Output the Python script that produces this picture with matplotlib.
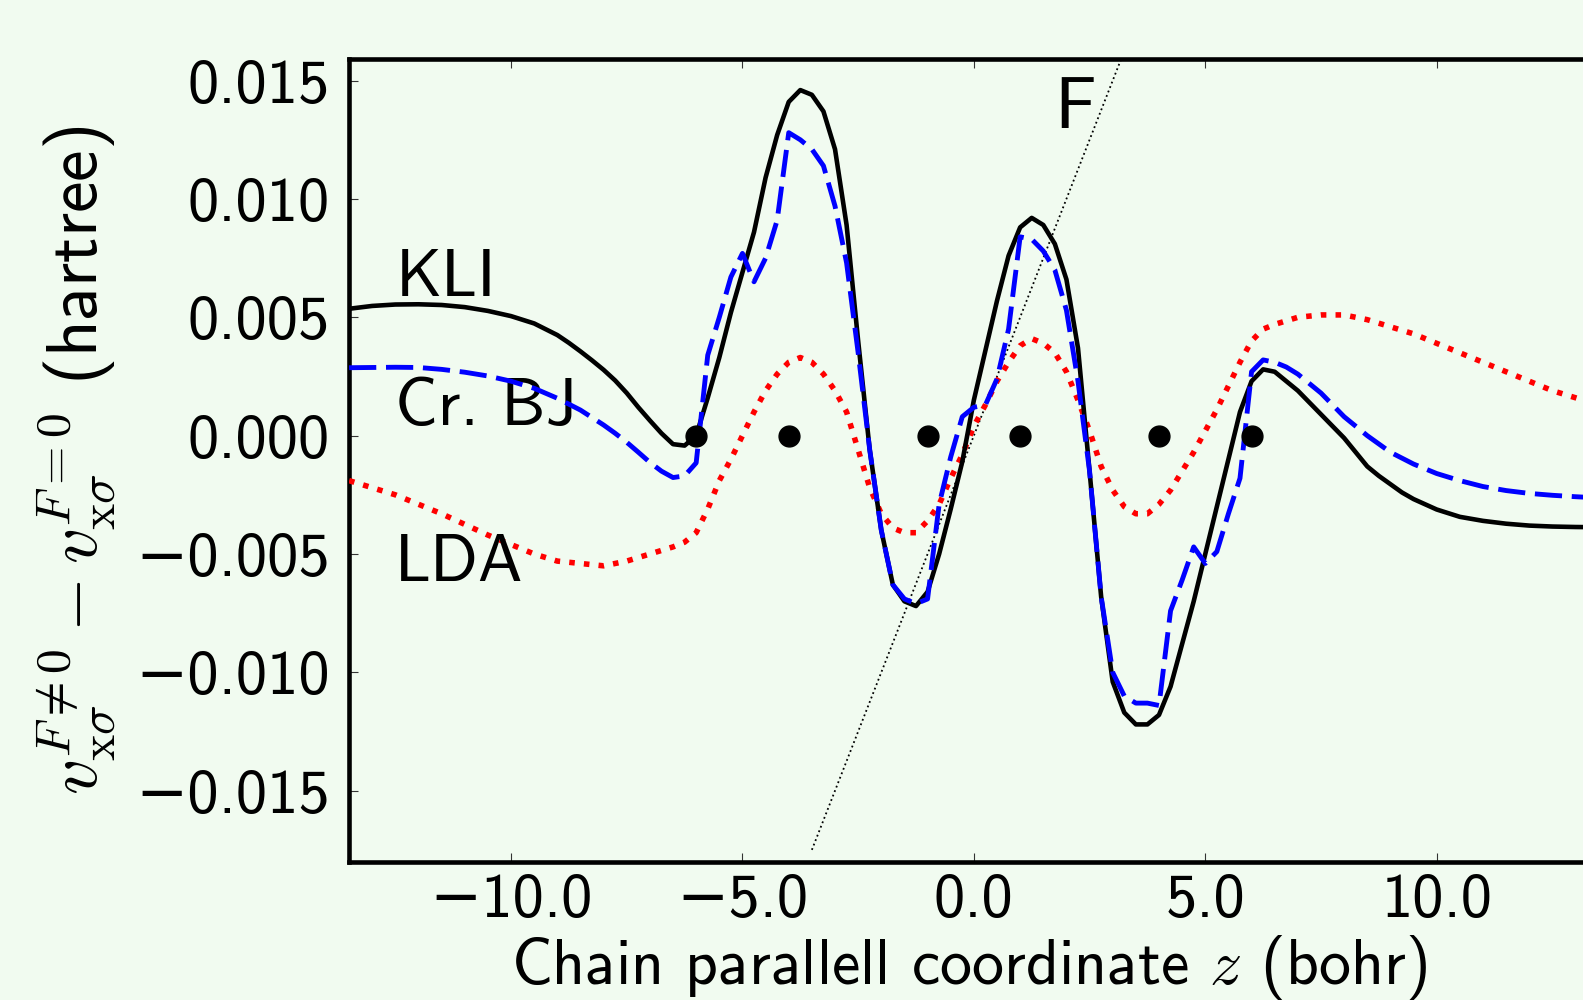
import numpy as np
import matplotlib
matplotlib.use('Agg')
import matplotlib.pyplot as plt
from matplotlib.ticker import FixedLocator, FuncFormatter

# exchange potential response, v_x(F != 0) - v_x(F = 0), along the chain axis
kli_z = [-13.5, -13.0, -12.5, -12.0, -11.5, -11.0, -10.5, -10.0, -9.5, -9.0, -8.75,
         -8.5, -8.25, -8.0, -7.75, -7.5, -7.25, -7.0, -6.75, -6.5, -6.25, -6.0,
         -5.75, -5.5, -5.25, -5.0, -4.75, -4.5, -4.25, -4.0, -3.75, -3.5, -3.25,
         -3.0, -2.75, -2.5, -2.25, -2.0, -1.75, -1.5, -1.25, -1.0, -0.75, -0.5,
         -0.25, 0.0, 0.25, 0.5, 0.75, 1.0, 1.25, 1.5, 1.75, 2.0, 2.25, 2.5, 2.75,
         3.0, 3.25, 3.5, 3.75, 4.0, 4.25, 4.5, 4.75, 5.0, 5.25, 5.5, 5.75, 6.0,
         6.25, 6.5, 6.75, 7.0, 7.25, 7.5, 7.75, 8.0, 8.25, 8.5, 8.75, 9.0, 9.25,
         9.5, 9.75, 10.0, 10.5, 11.0, 11.5, 12.0, 12.5, 13.0, 13.5]
kli_v = [0.00536, 0.00548, 0.00554, 0.00555, 0.00552, 0.00543, 0.00527, 0.00505,
         0.00474, 0.00425, 0.00392, 0.00356, 0.00318, 0.00278, 0.00233, 0.00180,
         0.00120, 0.00064, 0.00010, -0.00036, -0.00042, 0.0000, 0.0016, 0.0033,
         0.0052, 0.0069, 0.0086, 0.0109, 0.0127, 0.0141, 0.0146, 0.0144, 0.0137,
         0.0121, 0.0089, 0.0040, -0.0006, -0.0040, -0.0063, -0.0070, -0.0072,
         -0.0066, -0.0050, -0.0031, -0.0011, 0.0015, 0.0036, 0.0057, 0.0076,
         0.0088, 0.0092, 0.0089, 0.0081, 0.0066, 0.0037, -0.0015, -0.0068, -0.0104,
         -0.0117, -0.0122, -0.0122, -0.0118, -0.0106, -0.0088, -0.0070, -0.0050,
         -0.0030, -0.0010, 0.0010, 0.0023, 0.0028, 0.0027, 0.0023, 0.0019, 0.0014,
         0.0009, 0.0004, -0.0001, -0.0007, -0.0013, -0.0017, -0.00205, -0.0024,
         -0.00268, -0.0029, -0.00312, -0.00343, -0.0036, -0.00372, -0.0038,
         -0.00384, -0.00386, -0.00387]

crbj_z = [-13.5, -13.0, -12.5, -12.0, -11.5, -11.0, -10.5, -10.0, -9.5, -9.0, -8.5,
          -8.0, -7.75, -7.5, -7.25, -7.0, -6.75, -6.5, -6.25, -6.0, -5.75, -5.5,
          -5.25, -5.0, -4.75, -4.5, -4.25, -4.0, -3.75, -3.5, -3.25, -3.0, -2.75,
          -2.5, -2.25, -2.0, -1.75, -1.5, -1.25, -1.0, -0.75, -0.5, -0.25, 0.0,
          0.25, 0.5, 0.75, 1.0, 1.25, 1.5, 1.75, 2.0, 2.25, 2.5, 2.75, 3.0, 3.25,
          3.5, 3.75, 4.0, 4.25, 4.5, 4.75, 5.0, 5.25, 5.5, 5.75, 6.0, 6.25, 6.5,
          6.75, 7.0, 7.25, 7.5, 7.75, 8.0, 8.5, 9.0, 9.5, 10.0, 10.5, 11.0, 11.5,
          12.0, 12.5, 13.0, 13.5]
crbj_v = [0.00287, 0.00288, 0.00289, 0.00288, 0.00280, 0.00268, 0.00252, 0.00230,
          0.00200, 0.00158, 0.00108, 0.00045, 0.00010, -0.00028, -0.00070,
          -0.00113, -0.00150, -0.00177, -0.00170, -0.00115, 0.0034, 0.0050, 0.0067,
          0.0077, 0.0065, 0.0075, 0.0091, 0.0128, 0.0125, 0.0121, 0.0114, 0.0097,
          0.0073, 0.0035, -0.0006, -0.0040, -0.0063, -0.0069, -0.0071, -0.0069,
          -0.0029, -0.0009, 0.0008, 0.0012, 0.0013, 0.0024, 0.0045, 0.0084, 0.0083,
          0.0078, 0.0070, 0.0053, 0.0023, -0.0015, -0.0068, -0.0100, -0.0110,
          -0.0113, -0.0113, -0.0114, -0.0074, -0.0061, -0.0047, -0.0054, -0.0049,
          -0.0033, -0.0018, 0.0027, 0.0032, 0.0031, 0.0029, 0.0026, 0.0022, 0.0018,
          0.0013, 0.0008, 0.0000, -0.0007, -0.0012, -0.0016, -0.0019, -0.00215,
          -0.00232, -0.00244, -0.00252, -0.00258, -0.00263]

lda_z = [-13.5, -12.5, -11.5, -10.5, -10.0, -9.5, -9.0, -8.5, -8.0, -7.5, -7.0,
         -6.5, -6.25, -6.0, -5.75, -5.5, -5.25, -5.0, -4.75, -4.5, -4.25, -4.0,
         -3.75, -3.5, -3.25, -3.0, -2.75, -2.5, -2.25, -2.0, -1.75, -1.5, -1.25,
         -1.0, -0.75, -0.5, -0.25, 0.0, 0.25, 0.5, 0.75, 1.0, 1.25, 1.5, 1.75,
         2.0, 2.25, 2.5, 2.75, 3.0, 3.25, 3.5, 3.75, 4.0, 4.25, 4.5, 4.75, 5.0,
         5.25, 5.5, 5.75, 6.0, 6.25, 6.5, 7.0, 7.5, 8.0, 8.5, 9.0, 9.5, 10.0,
         10.5, 11.0, 11.5, 12.0, 12.5, 13.5]
lda_v = [-0.0019, -0.0025, -0.0033, -0.0042, -0.0046, -0.0050, -0.0053, -0.0054,
         -0.0055, -0.0053, -0.0050, -0.0047, -0.0045, -0.0041, -0.0031, -0.0019,
         -0.0010, 0.0000, 0.0010, 0.0019, 0.0026, 0.0031, 0.0033, 0.0031, 0.0026,
         0.0019, 0.0010, -0.0006, -0.0022, -0.0033, -0.0039, -0.0041, -0.0041,
         -0.0036, -0.0029, -0.0018, -0.0008, 0.0004, 0.0013, 0.0023, 0.0031,
         0.0038, 0.0041, 0.0039, 0.0035, 0.0027, 0.0015, 0.0002, -0.0013, -0.0023,
         -0.0030, -0.0033, -0.0033, -0.0029, -0.0023, -0.0015, -0.0007, 0.0002,
         0.0011, 0.0021, 0.0031, 0.0040, 0.0045, 0.0047, 0.0050, 0.0051, 0.0051,
         0.0049, 0.0046, 0.0043, 0.0039, 0.0035, 0.0031, 0.0027, 0.0023, 0.0019,
         0.0013]

# atom positions along the chain
atom_z = [-6.0, -4.0, -1.0, 1.0, 4.0, 6.0]
atom_v = [0.0, 0.0, 0.0, 0.0, 0.0, 0.0]

# applied field potential
field_strength = 0.005
field_z = np.array([-3.5, 3.5])
field_v = field_strength * field_z

xticks = [-10.0, -5.0, 0.0, 5.0, 10.0]
yticks = [-0.015, -0.010, -0.005, 0.000, 0.005, 0.010, 0.015]

bg = '#f1fbf0'

# computer modern sans, with DejaVu supplying the minus sign
plt.rcParams['font.family'] = ['cmss10', 'DejaVu Sans']
plt.rcParams['mathtext.fontset'] = 'cm'


def fmt(fmtstr):
    return FuncFormatter(lambda v, p: (fmtstr % v).replace('-', '\u2212'))


fig = plt.figure(figsize=(15.83, 10), dpi=100, facecolor=bg)
ax = fig.add_axes([0.2205, 0.1383, 0.7894, 0.8024])
ax.set_facecolor(bg)

ax.plot(field_z, field_v, color='black', ls=':', lw=1.3, zorder=2)
ax.plot(lda_z, lda_v, color='red', ls=':', lw=4.0, zorder=3)
ax.plot(kli_z, kli_v, color='black', ls='-', lw=3.3, zorder=4)
ax.plot(crbj_z, crbj_v, color='blue', ls='--', dashes=(5.6, 2.0), lw=3.5, zorder=5)
ax.plot(atom_z, atom_v, 'o', color='black', ms=15, zorder=6)

ax.text(-12.5, 0.00589, 'KLI', fontsize=48)
ax.text(-12.5, 0.00047, 'Cr. BJ', fontsize=48)
ax.text(-12.5, -0.00616, 'LDA', fontsize=48)
ax.text(1.74, 0.0130, 'F', fontsize=53)

ax.set_xlim(-13.5, 13.5)
ax.set_ylim(-0.018, 0.0159)

ax.xaxis.set_major_locator(FixedLocator(xticks))
ax.yaxis.set_major_locator(FixedLocator(yticks))
ax.xaxis.set_major_formatter(fmt('%.1f'))
ax.yaxis.set_major_formatter(fmt('%.3f'))
ax.tick_params(which='major', direction='in', top=True, right=True,
               length=6.5, width=0.8, color='#333333', labelsize=45)
ax.tick_params(axis='y', pad=14)
ax.tick_params(axis='x', pad=8)

for s in ax.spines.values():
    s.set_linewidth(3.3)

ax.set_xlabel('Chain parallell coordinate $z$ (bohr)', fontsize=46, va='baseline')
ax.xaxis.set_label_coords(0.4965, -0.1524)
ax.set_ylabel(r'$v_{\mathrm{x}\sigma}^{F\neq\mathrm{0}} - v_{\mathrm{x}\sigma}^{F=\mathrm{0}}$ (hartree)',
              fontsize=51, labelpad=12)

fig.savefig('out.png', dpi=100, facecolor=bg)
